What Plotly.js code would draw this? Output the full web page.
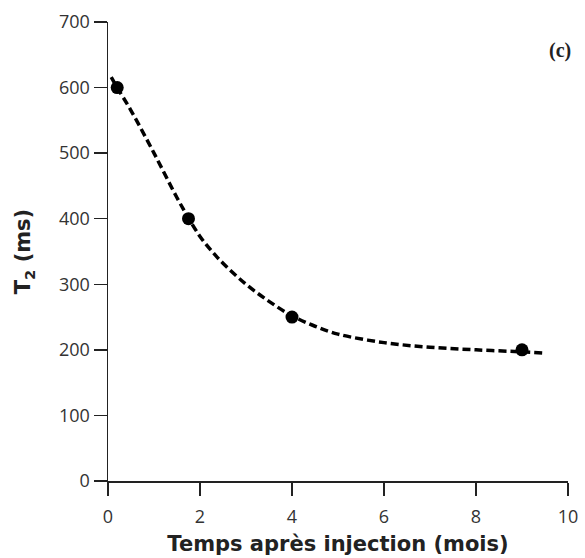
<!DOCTYPE html>
<html>
<head>
<meta charset="utf-8">
<script src="https://cdn.plot.ly/plotly-3.0.1.min.js"></script>
<style>html,body{margin:0;padding:0;background:#fff;}#chart{width:585px;height:558px;}</style>
</head>
<body>
<div id="chart"></div>
<script>
// Measured data points
const pointMonths = [0.2, 1.75, 4, 9];
const pointT2 = [600, 400, 250, 200];

// Fitted dashed curve
const curveMonths = [0.07, 0.2, 0.5, 1, 1.5, 1.75, 2, 2.25, 2.5, 3, 3.5, 4, 4.5, 5, 6, 7, 8, 9, 9.5];
const curveT2 = [616, 600, 565, 500, 432, 401, 373, 351, 332, 300, 274, 252, 236, 224, 211, 204, 200, 197, 195];

const xTicks = [0, 2, 4, 6, 8, 10];
const yTicks = [0, 100, 200, 300, 400, 500, 600, 700];

const traces = [
  {
    x: curveMonths, y: curveT2, type: 'scatter', mode: 'lines',
    line: {color: '#000', width: 3.5, dash: '8px,4px', shape: 'spline', smoothing: 1},
    hoverinfo: 'skip', showlegend: false
  },
  {
    x: pointMonths, y: pointT2, type: 'scatter', mode: 'markers',
    marker: {color: '#000', size: 13},
    showlegend: false
  }
];

const tickFont = {family: 'Open Sans, DejaVu Sans, sans-serif', size: 18, color: '#333'};
const titleFont = {family: 'DejaVu Sans, sans-serif', size: 21, color: '#222', weight: 'bold'};

const layout = {
  width: 585, height: 558,
  margin: {l: 108, r: 17, t: 22, b: 77},
  paper_bgcolor: '#fff', plot_bgcolor: '#fff',
  showlegend: false,
  xaxis: {
    range: [0, 10], tickvals: xTicks, ticktext: xTicks.map(String),
    showline: true, linecolor: '#222', linewidth: 1.5,
    ticks: 'outside', ticklen: 13, tickwidth: 1.5, tickcolor: '#222',
    ticklabelstandoff: 6,
    showgrid: false, zeroline: false, tickfont: tickFont,
    title: {text: 'Temps après injection (mois)', font: titleFont, standoff: 9}
  },
  yaxis: {
    range: [0, 700], tickvals: yTicks, ticktext: yTicks.map(String),
    showline: true, linecolor: '#222', linewidth: 1.5,
    ticks: 'outside', ticklen: 13, tickwidth: 1.5, tickcolor: '#222',
    showgrid: false, zeroline: false, tickfont: tickFont,
    title: {text: 'T<sub>2</sub> (ms)', font: {family: 'DejaVu Sans, sans-serif', size: 21, color: '#222', weight: 'bold'}, standoff: 22}
  },
  annotations: [{
    text: '<b>(c)</b>', xref: 'paper', yref: 'paper', x: 1.01, y: 0.937,
    xanchor: 'right', yanchor: 'middle', showarrow: false,
    font: {family: 'Liberation Serif, serif', size: 20, color: '#222'}
  }]
};

Plotly.newPlot('chart', traces, layout, {displayModeBar: false, staticPlot: true});
</script>
</body>
</html>
